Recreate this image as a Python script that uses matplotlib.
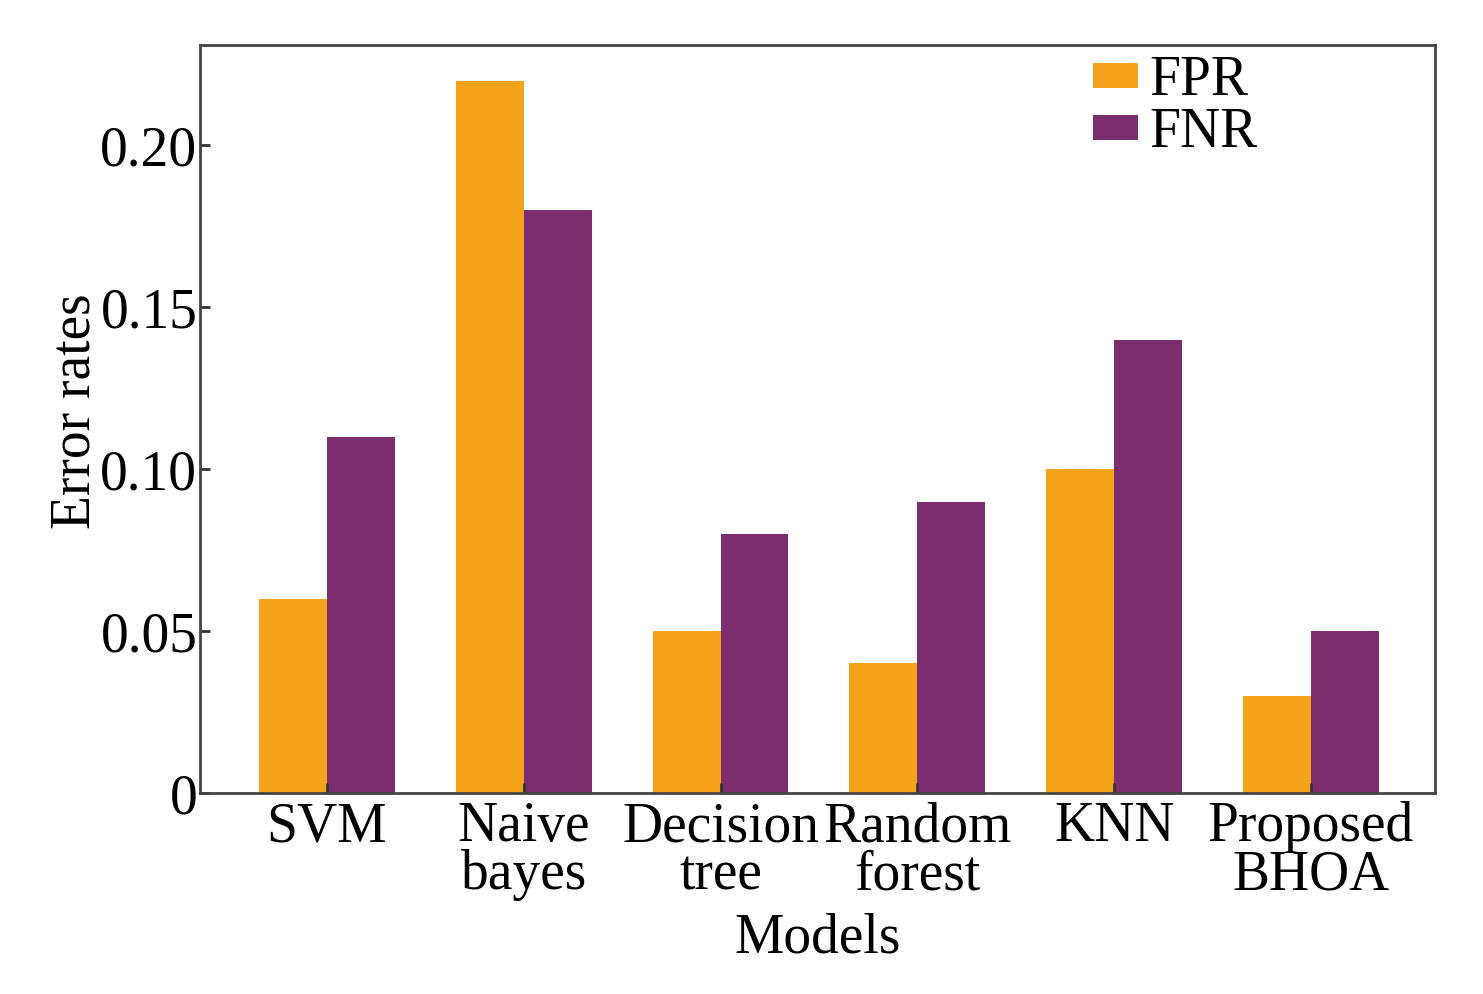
import matplotlib
matplotlib.use("Agg")
import matplotlib.pyplot as plt
import numpy as np

plt.rcParams.update({"font.family": ["Liberation Serif", "DejaVu Serif"],
                     "font.size": 40})

models = ["SVM", "Naive\nbayes", "Decision\ntree", "Random\nforest", "KNN",
          "Proposed\nBHOA"]
fpr = [0.06, 0.22, 0.05, 0.04, 0.10, 0.03]
fnr = [0.11, 0.18, 0.08, 0.09, 0.14, 0.05]

x = np.arange(len(models))
w = 0.345

fig = plt.figure(figsize=(14.83, 9.94), dpi=100)
ax = fig.add_axes([0.1349, 0.2022, 0.8327, 0.7525])
ax.bar(x - w / 2, fpr, w, color="#F5A31A", label="FPR")
ax.bar(x + w / 2, fnr, w, color="#7B2D6E", label="FNR")

ax.set_xlim(-0.645, 5.63)
ax.set_ylim(0, 0.231)
ax.set_yticks([0, 0.05, 0.10, 0.15, 0.20])
ax.set_yticklabels(["0", "0.05", "0.10", "0.15", "0.20"])
ax.set_xticks(x)
ax.set_xticklabels(models, linespacing=0.9)
ax.tick_params(direction="in", length=7, width=2, color="#333333", pad=6)
ax.tick_params(axis="y", pad=2)
for s in ax.spines.values():
    s.set_color("#444444")
    s.set_linewidth(2)

ax.set_xlabel("Models", labelpad=8)
ax.set_ylabel("Error rates")
ax.yaxis.set_label_coords(-0.08, 0.51)

ax.legend(loc="upper left", bbox_to_anchor=(0.683, 1.053), frameon=False,
          fontsize=40, handlelength=0.8, handleheight=0.3, handletextpad=0.2,
          labelspacing=0.0)

fig.savefig("out.png", dpi=100)
